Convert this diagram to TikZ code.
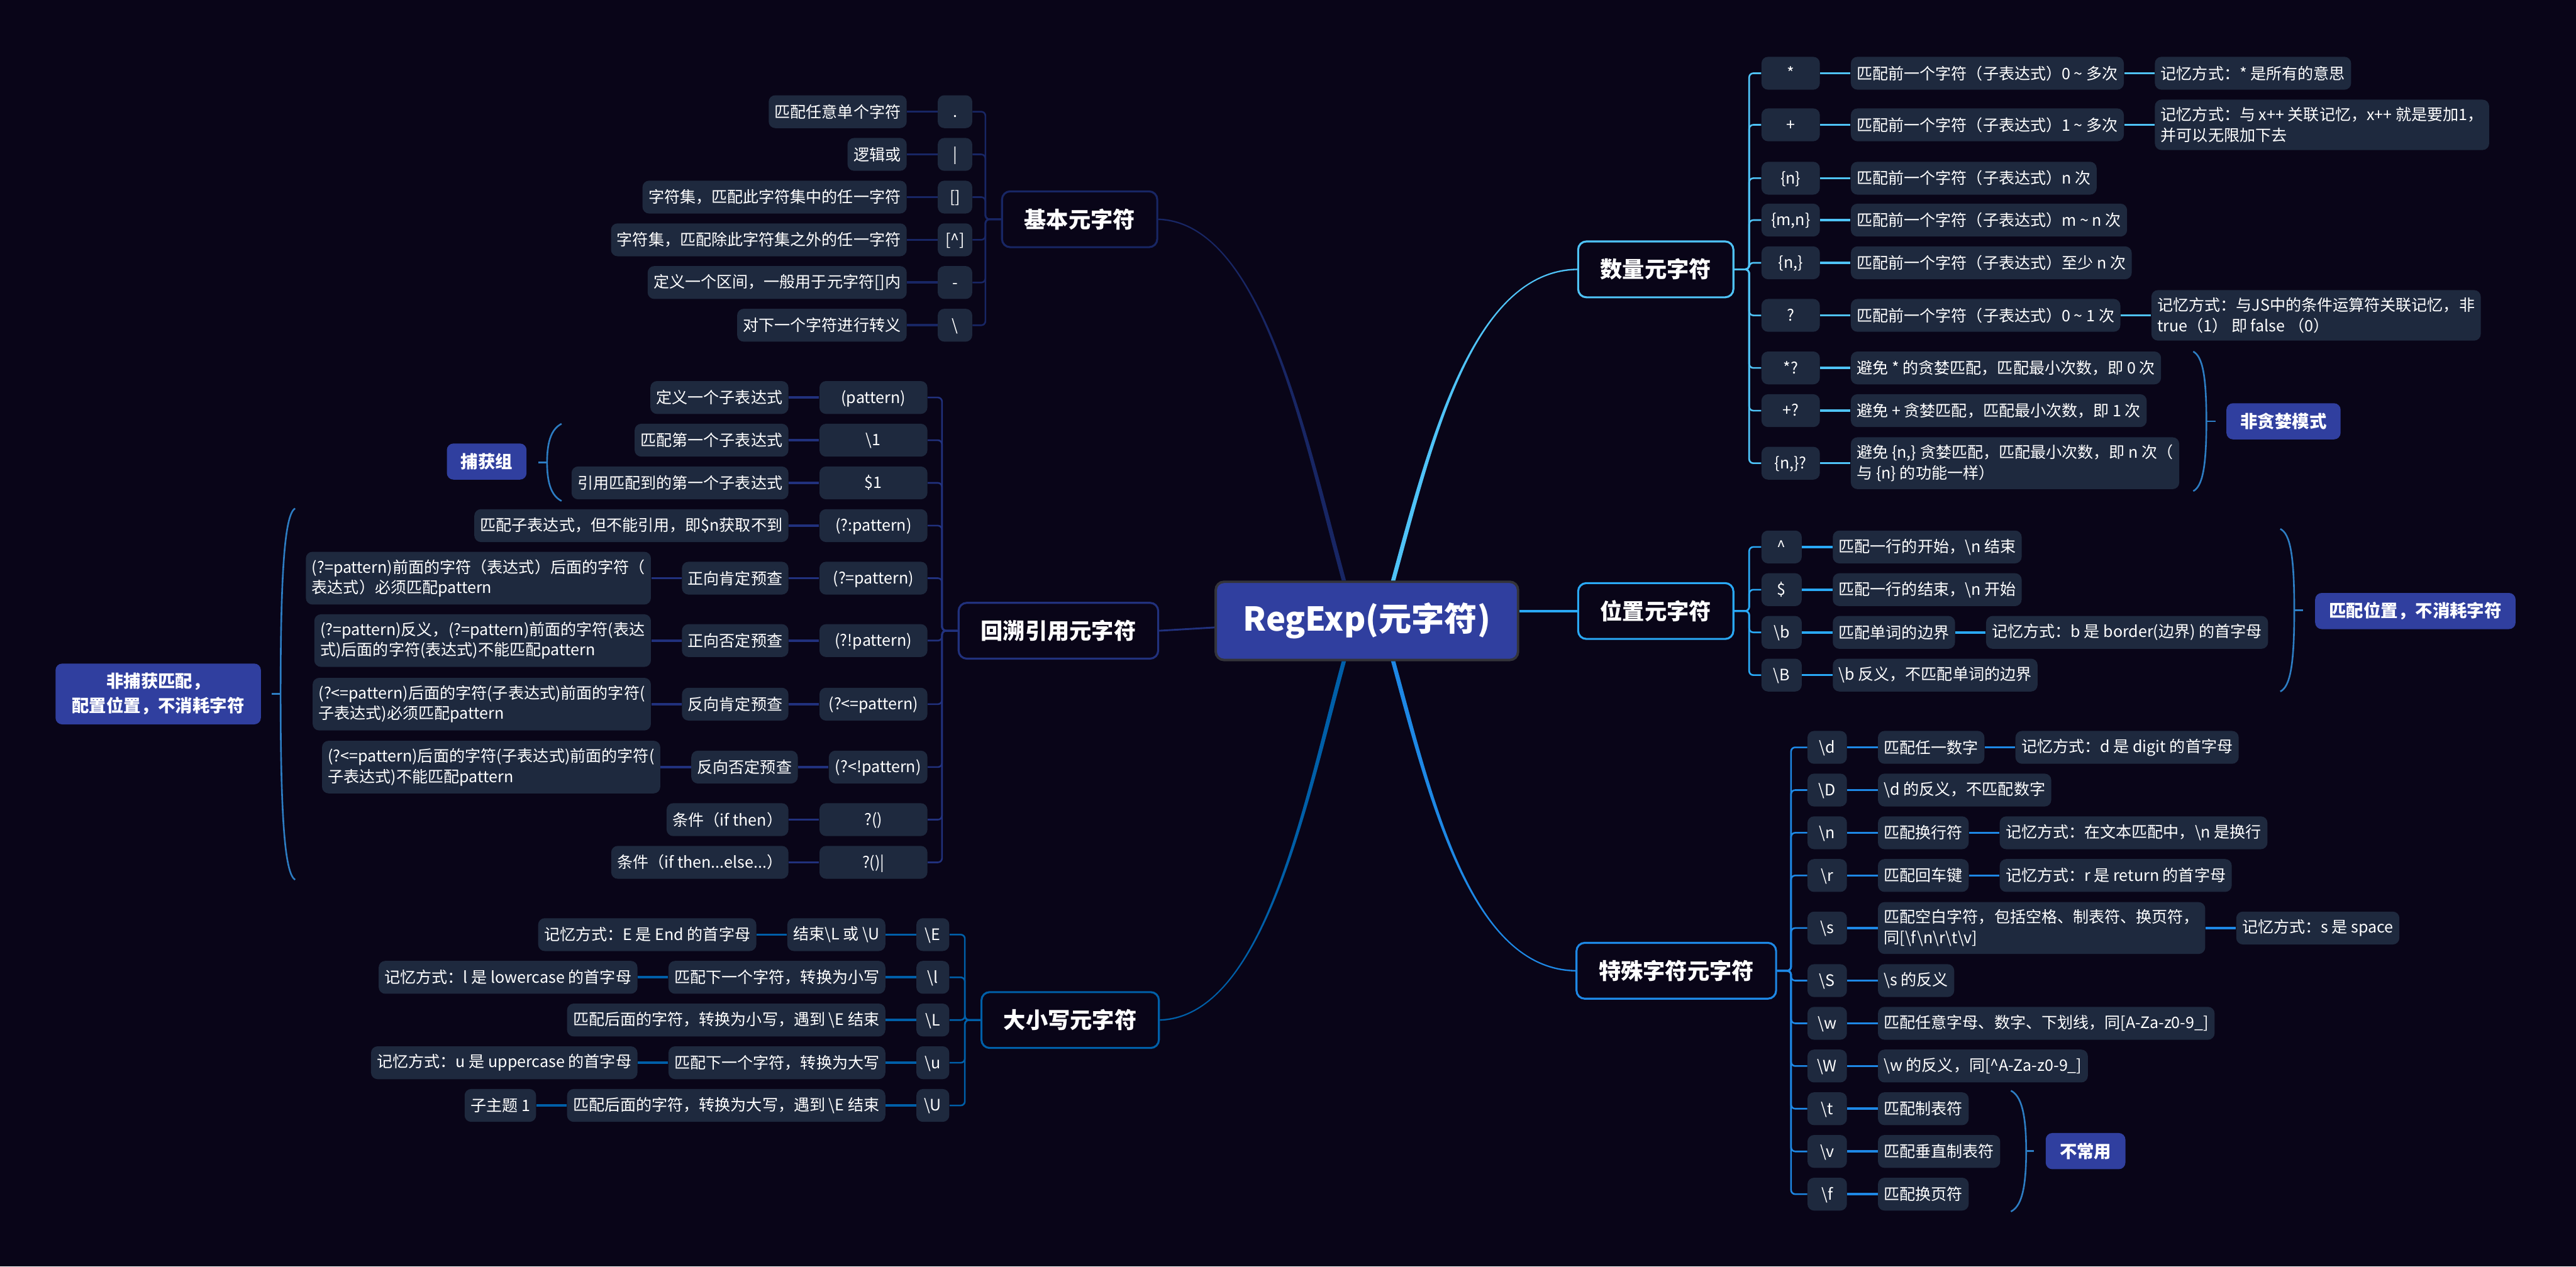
\documentclass[tikz,border=0pt]{standalone}
\usepackage{fontspec}
\setmainfont{Noto Sans CJK SC}
\usepackage{xcolor}
\usetikzlibrary{positioning}

\definecolor{bgc}{RGB}{9,5,24}
\definecolor{leafc}{RGB}{30,41,62}
\definecolor{hubc}{RGB}{48,63,159}
\definecolor{hubrim}{RGB}{52,52,58}
\definecolor{jiben}{RGB}{24,38,100}
\definecolor{huisu}{RGB}{33,49,125}
\definecolor{daxiao}{RGB}{0,95,168}
\definecolor{shuliang}{RGB}{79,195,247}
\definecolor{weizhi}{RGB}{42,169,245}
\definecolor{teshu}{RGB}{30,136,229}
\definecolor{summc}{RGB}{45,125,195}

\tikzset{
  leaf/.style={fill=leafc, rounded corners=4pt, text=white, inner xsep=3.6pt,
    inner ysep=4.6pt, minimum height=20pt, align=left,
    font=\fontsize{9.6}{12.5}\selectfont},
  sym/.style={leaf, align=center, text height=8pt, text depth=1.2pt},
  topic/.style={draw, line width=1.2pt, fill=bgc, rounded corners=5pt, text=white,
    minimum height=34pt, inner xsep=13.5pt, font=\bfseries\fontsize{13.5}{16}\selectfont},
  hub/.style={draw=hubrim, line width=1.5pt, fill=hubc, rounded corners=5pt, text=white,
    minimum width=184pt, minimum height=47.6pt, font=\bfseries\fontsize{20}{24}\selectfont},
  tag/.style={fill=hubc, rounded corners=4pt, text=white, minimum height=22pt,
    inner xsep=8.5pt, align=center, font=\bfseries\fontsize{10.5}{14.8}\selectfont},
  twig/.style={line width=1pt, rounded corners=2.5pt},
  link/.style={line width=1.4pt},
  stem/.style={line width=1.8pt},
  summ/.style={draw=summc, line width=1pt}
}
\newcommand{\bsl}{\textbackslash}
\newcommand{\tdots}{...}

\begin{document}
\begin{tikzpicture}[x=1pt, y=-1pt]
  % background
  \fill[bgc] (0,0) rectangle (1568,771);
  \useasboundingbox (0,0) rectangle (1568,771);

  % centre and main topics
  \node[hub] (hub) at (832,378) {RegExp(元字符)};
  \node[topic, draw=jiben, anchor=east] (t1) at (705,133.5) {基本元字符};
  \node[topic, draw=huisu, anchor=east] (t2) at (705.6,384) {回溯引用元字符};
  \node[topic, draw=daxiao, anchor=east] (t3) at (706,621) {大小写元字符};
  \node[topic, draw=shuliang, anchor=west] (t4) at (960,164) {数量元字符};
  \node[topic, draw=weizhi, anchor=west] (t5) at (960,372) {位置元字符};
  \node[topic, draw=teshu, anchor=west] (t6) at (959,591) {特殊字符元字符};

  % tapered stems from the centre
  \fill[jiben] ([xshift=-15.3pt]hub.north) .. controls +(-23,-84) and +(64,2) .. ([yshift=-0.45pt]t1.east)
    -- ([yshift=0.45pt]t1.east) .. controls +(64,2) and +(-23,-84) .. ([xshift=-12.7pt]hub.north) -- cycle;
  \draw[stem, huisu, line width=1.1pt] ([yshift=-4pt]hub.west) -- (t2.east);
  \fill[daxiao] ([xshift=-15.3pt]hub.south) .. controls +(-23,84) and +(64,-2) .. ([yshift=0.45pt]t3.east)
    -- ([yshift=-0.45pt]t3.east) .. controls +(64,-2) and +(-23,84) .. ([xshift=-12.7pt]hub.south) -- cycle;
  \fill[shuliang] ([xshift=17.3pt]hub.north) .. controls +(23,-84) and +(-64,1) .. ([yshift=-0.45pt]t4.west)
    -- ([yshift=0.45pt]t4.west) .. controls +(-64,1) and +(23,-84) .. ([xshift=14.7pt]hub.north) -- cycle;
  \draw[stem, weizhi, line width=1.4pt] ([yshift=6pt]hub.east) -- (t5.west);
  \fill[teshu] ([xshift=17.3pt]hub.south) .. controls +(23,84) and +(-64,-1) .. ([yshift=0.45pt]t6.west)
    -- ([yshift=-0.45pt]t6.west) .. controls +(-64,-1) and +(23,84) .. ([xshift=14.7pt]hub.south) -- cycle;

  % basic metacharacters
  \foreach \i/\y/\sy/\tx in {1/68/./匹配任意单个字符, 2/94/|/逻辑或,
      3/120/[]/字符集，匹配此字符集中的任一字符, 4/146/[\textasciicircum]/字符集，匹配除此字符集之外的任一字符,
      5/172/-/定义一个区间，一般用于元字符[]内, 6/198/\bsl/对下一个字符进行转义}{
    \node[sym, minimum width=21pt, anchor=east] (a\i) at (592,\y) {\sy};
    \node[leaf, left=18.5pt of a\i] (aa\i) {\tx};
    \draw[twig, jiben] (t1.west) -- ++(-9.5,0) |- (a\i.east);
    \draw[link, jiben] (a\i) -- (aa\i);
  }

  % back references
  \foreach \i/\y/\sy/\tx in {1/242/(pattern)/定义一个子表达式, 2/268/\bsl 1/匹配第一个子表达式,
      3/294/\$1/引用匹配到的第一个子表达式, 4/320/(?:pattern)/匹配子表达式，但不能引用，即\$n获取不到,
      9/499/?()/条件（if then）, 10/525/?()|/条件（if then\tdots else\tdots）}{
    \node[sym, minimum width=65.7pt, anchor=east] (b\i) at (564.7,\y) {\sy};
    \node[leaf, left=18.5pt of b\i] (bb\i) {\tx};
    \draw[twig, huisu] (t2.west) -- ++(-9.5,0) |- (b\i.east);
    \draw[link, huisu] (b\i) -- (bb\i);
  }
  \foreach \i/\y/\sw/\sy/\md/\tx in {
      5/352/65.7/(?=pattern)/正向肯定预查/{(?=pattern)前面的字符（表达式）后面的字符（\\表达式）必须匹配pattern},
      6/390/65.7/(?!pattern)/正向否定预查/{(?=pattern)反义，(?=pattern)前面的字符(表达\\式)后面的字符(表达式)不能匹配pattern},
      7/428.7/65.7/(?<=pattern)/反向肯定预查/{(?<=pattern)后面的字符(子表达式)前面的字符(\\子表达式)必须匹配pattern},
      8/467/60/(?<!pattern)/反向否定预查/{(?<=pattern)后面的字符(子表达式)前面的字符(\\子表达式)不能匹配pattern}}{
    \node[sym, minimum width=\sw pt, anchor=east] (b\i) at (564.7,\y) {\sy};
    \node[leaf, left=18.5pt of b\i] (bb\i) {\md};
    \node[leaf, left=18.5pt of bb\i] (bbb\i) {\tx};
    \draw[twig, huisu] (t2.west) -- ++(-9.5,0) |- (b\i.east);
    \draw[link, huisu] (b\i) -- (bb\i);
    \draw[link, huisu] (bb\i) -- (bbb\i);
  }
  \node[tag, anchor=east] (capt) at (320.7,281) {捕获组};
  \coordinate (captm) at (333,281.5);
  \draw[summ] (341.8,258) .. controls (336,261) and (333,268) .. (captm)
    .. controls (333,295) and (336,302) .. (341.8,305);
  \draw[summ] (captm) -- ++(-5.4,0);
  \node[tag, anchor=east, minimum height=37pt, inner xsep=10pt] (ncap) at (159,422.5) {非捕获匹配，\\配置位置，不消耗字符};
  \coordinate (ncapm) at (170.8,422.5);
  \draw[summ] (179.6,309.5) .. controls (174,313) and (170.8,340) .. (ncapm)
    .. controls (170.8,505) and (174,532) .. (179.6,535.6);
  \draw[summ] (ncapm) -- ++(-5.3,0);

  % case conversion
  \foreach \i/\y/\sy/\tx in {1/569/\bsl E/结束\bsl L 或 \bsl U, 2/595/\bsl l/匹配下一个字符，转换为小写,
      3/621/\bsl L/匹配后面的字符，转换为小写，遇到 \bsl E 结束, 4/647/\bsl u/匹配下一个字符，转换为大写,
      5/673/\bsl U/匹配后面的字符，转换为大写，遇到 \bsl E 结束}{
    \node[sym, minimum width=20pt, anchor=east] (c\i) at (578,\y) {\sy};
    \node[leaf, left=18.5pt of c\i] (cc\i) {\tx};
    \draw[twig, daxiao] (t3.west) -- ++(-9.5,0) |- (c\i.east);
    \draw[link, daxiao] (c\i) -- (cc\i);
  }
  \foreach \i/\tx in {1/记忆方式：E 是 End 的首字母, 2/记忆方式：l 是 lowercase 的首字母,
      4/记忆方式：u 是 uppercase 的首字母, 5/子主题 1}{
    \node[leaf, left=18.5pt of cc\i] (ccc\i) {\tx};
    \draw[link, daxiao] (cc\i) -- (ccc\i);
  }

  % quantifiers
  \foreach \i/\y/\sy/\tx in {1/44.6/*/匹配前一个字符（子表达式）0 \textasciitilde{} 多次,
      2/76/+/匹配前一个字符（子表达式）1 \textasciitilde{} 多次, 3/108.5/\{n\}/匹配前一个字符（子表达式）n 次,
      4/134/{\{m,n\}}/匹配前一个字符（子表达式）m \textasciitilde{} n 次, 5/160/{\{n,\}}/匹配前一个字符（子表达式）至少 n 次,
      6/192/?/匹配前一个字符（子表达式）0 \textasciitilde{} 1 次, 7/224/*?/避免 * 的贪婪匹配，匹配最小次数，即 0 次,
      8/250/+?/避免 + 贪婪匹配，匹配最小次数，即 1 次,
      9/282/{\{n,\}?}/{避免 \{n,\} 贪婪匹配，匹配最小次数，即 n 次（\\与 \{n\} 的功能一样）}}{
    \node[sym, minimum width=35.5pt, anchor=west] (d\i) at (1072,\y) {\sy};
    \node[leaf, right=18.5pt of d\i] (dd\i) {\tx};
    \draw[twig, shuliang] (t4.east) -- ++(9,0) |- (d\i.west);
    \draw[link, shuliang] (d\i) -- (dd\i);
  }
  \foreach \i/\tx in {1/记忆方式：* 是所有的意思,
      2/{记忆方式：与 x++ 关联记忆，x++ 就是要加1，\\并可以无限加下去},
      6/{记忆方式：与JS中的条件运算符关联记忆，非\\true（1） 即 false （0）}}{
    \node[leaf, right=18.5pt of dd\i] (ddd\i) {\tx};
    \draw[link, shuliang] (dd\i) -- (ddd\i);
  }
  \node[tag, anchor=west] (lazy) at (1355,256.5) {非贪婪模式};
  \coordinate (lazym) at (1343,256.5);
  \draw[summ] (1335,214) .. controls (1340.5,217) and (1343,228) .. (lazym)
    .. controls (1343,285) and (1340.5,296) .. (1335,299);
  \draw[summ] (lazym) -- ++(5.5,0);

  % anchors / positions
  \foreach \i/\y/\sy/\tx in {1/333/\textasciicircum/匹配一行的开始，\bsl n 结束, 2/359/\$/匹配一行的结束，\bsl n 开始,
      3/385/\bsl b/匹配单词的边界, 4/411/\bsl B/\bsl b 反义，不匹配单词的边界}{
    \node[sym, minimum width=24.5pt, anchor=west] (e\i) at (1072,\y) {\sy};
    \node[leaf, right=18.5pt of e\i] (ee\i) {\tx};
    \draw[twig, weizhi] (t5.east) -- ++(9,0) |- (e\i.west);
    \draw[link, weizhi] (e\i) -- (ee\i);
  }
  \node[leaf, right=18.5pt of ee3] (eee3) {记忆方式：b 是 border(边界) 的首字母};
  \draw[link, weizhi] (ee3) -- (eee3);
  \node[tag, anchor=west] (zero) at (1409,372) {匹配位置，不消耗字符};
  \coordinate (zerom) at (1396.5,371.5);
  \draw[summ] (1388,322) .. controls (1394,325) and (1396.5,338) .. (zerom)
    .. controls (1396.5,405) and (1394,418) .. (1388,421);
  \draw[summ] (zerom) -- ++(5.5,0);

  % special characters
  \foreach \i/\y/\sy/\tx in {1/455/\bsl d/匹配任一数字, 2/481/\bsl D/\bsl d 的反义，不匹配数字,
      3/507/\bsl n/匹配换行符, 4/533/\bsl r/匹配回车键,
      5/565/\bsl s/{匹配空白字符，包括空格、制表符、换页符，\\同[\bsl f\bsl n\bsl r\bsl t\bsl v]},
      6/597/\bsl S/\bsl s 的反义, 7/623/\bsl w/匹配任意字母、数字、下划线，同[A-Za-z0-9\_],
      8/649/\bsl W/\bsl w 的反义，同[\textasciicircum A-Za-z0-9\_], 9/675/\bsl t/匹配制表符,
      10/701/\bsl v/匹配垂直制表符, 11/727/\bsl f/匹配换页符}{
    \node[sym, minimum width=24pt, anchor=west] (f\i) at (1100,\y) {\sy};
    \node[leaf, right=18.5pt of f\i] (ff\i) {\tx};
    \draw[twig, teshu] (t6.east) -- ++(8.5,0) |- (f\i.west);
    \draw[link, teshu] (f\i) -- (ff\i);
  }
  \foreach \i/\tx in {1/记忆方式：d 是 digit 的首字母, 3/记忆方式：在文本匹配中，\bsl n 是换行,
      4/记忆方式：r 是 return 的首字母, 5/记忆方式：s 是 space}{
    \node[leaf, right=18.5pt of ff\i] (fff\i) {\tx};
    \draw[link, teshu] (ff\i) -- (fff\i);
  }
  \node[tag, anchor=west] (rare) at (1245,700.8) {不常用};
  \coordinate (rarem) at (1233.3,700.8);
  \draw[summ] (1224,664) .. controls (1230,667) and (1233.3,677) .. (rarem)
    .. controls (1233.3,725) and (1230,734.6) .. (1224,737.6);
  \draw[summ] (rarem) -- ++(4.7,0);
\end{tikzpicture}
\end{document}
